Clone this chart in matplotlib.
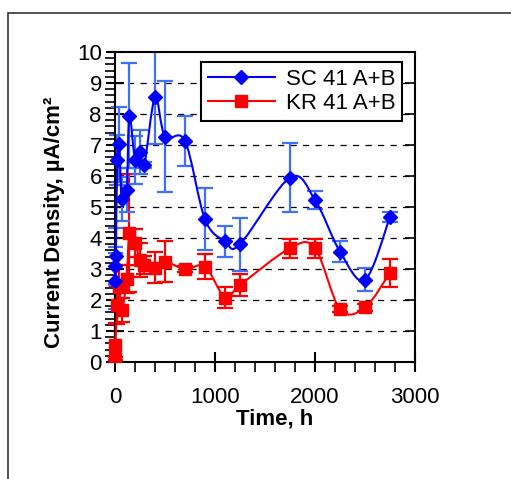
import numpy as np
import matplotlib
matplotlib.use("Agg")
import matplotlib.pyplot as plt
from matplotlib.path import Path
from matplotlib.patches import PathPatch, Rectangle
from matplotlib.lines import Line2D
from matplotlib.ticker import MultipleLocator

plt.rcParams['font.family'] = ['Liberation Sans', 'DejaVu Sans']

# SC 41 A+B
sc_t = [0, 4, 8, 23, 43, 67, 117, 143, 200, 250, 293, 400, 500, 700, 900,
        1100, 1250, 1750, 2000, 2250, 2500, 2750]
sc_y = [2.62, 3.10, 3.42, 6.52, 7.02, 5.26, 5.55, 7.95, 6.52, 6.78, 6.35, 8.54,
        7.27, 7.13, 4.60, 3.90, 3.80, 5.95, 5.23, 3.56, 2.65, 4.68]
sc_err = [0.9, 0.6, 0.9, 0.8, 1.2, 0.7, 0.7, 1.68, 0.78, 0.7, 0.1, 1.5,
          1.8, 0.8, 1.0, 0.5, 0.85, 1.1, 0.3, 0.33, 0.37, 0.15]

# KR 41 A+B
kr_t = [0, 4, 23, 43, 67, 117, 143, 200, 250, 293, 400, 500, 700, 900,
        1100, 1250, 1750, 2000, 2250, 2500, 2750]
kr_y = [0.12, 0.55, 1.84, 2.43, 1.68, 2.67, 4.15, 3.85, 3.29, 3.13, 3.04,
        3.24, 2.99, 3.08, 2.08, 2.48, 3.67, 3.67, 1.70, 1.76, 2.88]
kr_err = [0.05, 0.7, 0.6, 0.7, 0.4, 0.45, 1.9, 0.45, 0.55, 0.3, 0.5,
          0.65, 0.1, 0.4, 0.35, 0.35, 0.3, 0.3, 0.1, 0.1, 0.45]


def smooth_path(x, y):
    # excel-like smoothed line: cubic bezier through the points
    p = np.column_stack([x, y]).astype(float)
    n = len(p)
    verts = [p[0]]
    codes = [Path.MOVETO]
    for i in range(n - 1):
        p0 = p[i - 1] if i > 0 else p[i]
        p1 = p[i]
        p2 = p[i + 1]
        p3 = p[i + 2] if i + 2 < n else p[i + 1]
        verts += [p1 + (p2 - p0) / 6.0, p2 - (p3 - p1) / 6.0, p2]
        codes += [Path.CURVE4] * 3
    return Path(verts, codes)


fig = plt.figure(figsize=(5.11, 4.79), dpi=100)
fig.add_artist(Rectangle((7.5 / 511, -0.1), 1.2, 1.1 - 13 / 479,
                         transform=fig.transFigure, fill=False,
                         edgecolor='#333333', linewidth=1.2))

ax = fig.add_axes([108 / 511, 1 - 362 / 479, 307 / 511, 310 / 479])
ax.set_xlim(-70, 3000)
ax.set_ylim(0, 10)

ax.hlines(np.arange(1, 10), 0, 3000, colors='black', linestyles=(0, (5, 5)),
          linewidth=0.9, zorder=1)

ax.errorbar(kr_t, kr_y, yerr=kr_err, fmt='none', ecolor='#FF0000',
            elinewidth=1.6, capsize=5.5, capthick=1.6, zorder=2)
ax.errorbar(sc_t, sc_y, yerr=sc_err, fmt='none', ecolor='#3F6FFF',
            elinewidth=1.6, capsize=5.5, capthick=1.6, zorder=2)

ax.add_patch(PathPatch(smooth_path(kr_t, kr_y), fill=False, edgecolor='#FF0000',
                       linewidth=1.5, zorder=3))
ax.add_patch(PathPatch(smooth_path(sc_t, sc_y), fill=False, edgecolor='#0000FF',
                       linewidth=1.5, zorder=3))
ax.plot(kr_t, kr_y, 's', color='#FF0000', ms=8.5, zorder=4)
ax.plot(sc_t, sc_y, 'D', color='#0000FF', ms=7.5, zorder=5)

for s in ax.spines.values():
    s.set_linewidth(1.5)
ax.spines['left'].set_position(('data', 0))

ax.xaxis.set_major_locator(MultipleLocator(1000))
ax.xaxis.set_minor_locator(MultipleLocator(200))
ax.yaxis.set_major_locator(MultipleLocator(1))
ax.yaxis.set_minor_locator(MultipleLocator(0.2))
ax.tick_params(axis='x', which='major', direction='inout', length=14, width=1.5,
               labelsize=16, pad=11)
ax.tick_params(axis='x', which='minor', direction='out', length=7, width=1.2)
ax.tick_params(axis='y', which='major', direction='inout', length=13, width=1.5,
               labelsize=16, pad=3)
ax.tick_params(axis='y', which='minor', direction='out', length=7, width=1.2)

ax2 = ax.twinx()
ax2.set_ylim(0, 10)
ax2.yaxis.set_major_locator(MultipleLocator(1))
ax2.tick_params(axis='y', direction='in', length=7, width=1.2, labelright=False)
for s in ax2.spines.values():
    s.set_visible(False)

ax.set_xlabel('Time, h', fontsize=16, fontweight='bold')
ax.set_ylabel('Current Density, µA/cm²', fontsize=16, fontweight='bold')
ax.xaxis.set_label_coords(0.544, -0.15)
ax.yaxis.set_label_coords(-0.14, 0.45)

handles = [Line2D([], [], color='#0000FF', marker='D', ms=7.5, lw=1.5),
           Line2D([], [], color='#FF0000', marker='s', ms=8.5, lw=1.5)]
leg = ax.legend(handles, ['SC 41 A+B', 'KR 41 A+B'], loc='upper right',
                bbox_to_anchor=(0.958, 0.968), borderaxespad=0, fontsize=16,
                fancybox=False, framealpha=1, edgecolor='black',
                handlelength=3.0, handletextpad=0.5, labelspacing=0.15,
                borderpad=0.3)
leg.get_frame().set_linewidth(1.5)
leg.set_zorder(10)

fig.savefig('out.png', dpi=100)
